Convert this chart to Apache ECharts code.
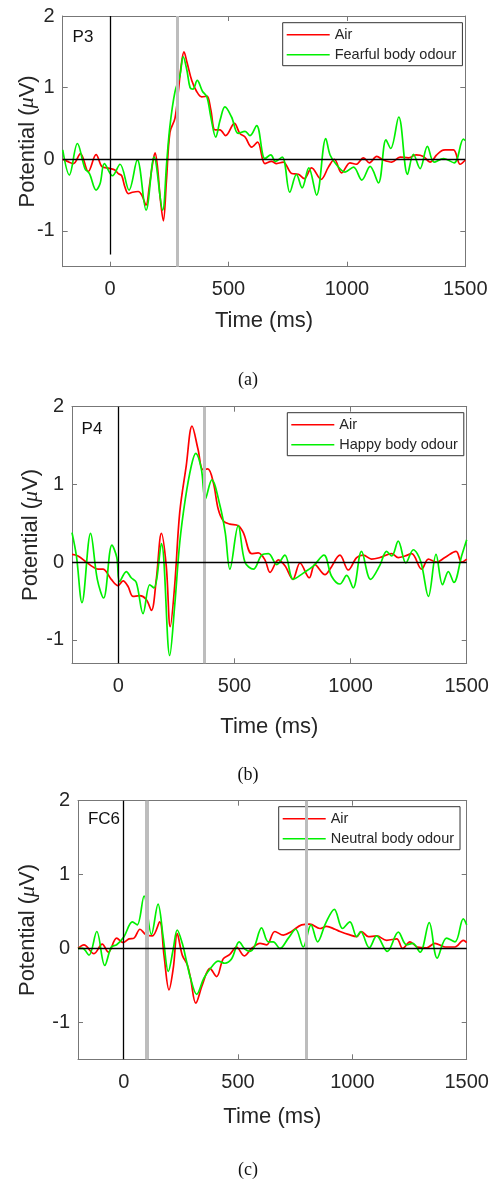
<!DOCTYPE html>
<html>
<head>
<meta charset="utf-8">
<script src="https://cdn.jsdelivr.net/npm/echarts@6/dist/echarts.min.js"></script>
<style>
html,body{margin:0;padding:0;background:#fff;}
#c{width:497px;height:1182px;}
</style>
</head>
<body>
<div id="c"></div>
<script>
// ---- data: [time (ms), potential (µV)] ----
const airP3 = [[-200,0],[-180,-0.03],[-155,-0.06],[-125,0.08],[-92,-0.17],[-59,0.065],[-35,-0.1],[-14,-0.12],[0,-0.13],[20,-0.15],[35,-0.2],[49,-0.23],[62,-0.38],[77,-0.48],[95,-0.46],[119,-0.45],[134,-0.5],[152,-0.64],[165,-0.4],[180,-0.05],[190,0.09],[200,-0.1],[212,-0.55],[225,-0.86],[238,-0.3],[253,0.38],[274,0.57],[288,0.94],[300,1.3],[312,1.5],[325,1.35],[345,1.1],[365,0.95],[387,0.87],[409,0.88],[425,0.7],[443,0.41],[464,0.41],[488,0.33],[525,0.5],[548,0.36],[570,0.31],[598,0.17],[623,0.24],[654,-0.06],[682,-0.03],[703,-0.06],[731,-0.04],[767,-0.2],[795,-0.21],[820,-0.27],[851,-0.12],[891,-0.28],[922,-0.11],[947,0],[978,-0.19],[1013,-0.05],[1039,-0.07],[1070,0.02],[1095,-0.05],[1126,0.04],[1154,-0.01],[1189,-0.04],[1225,0.03],[1260,0.02],[1292,0.06],[1323,0.04],[1351,-0.04],[1379,0.06],[1400,0.12],[1415,0.13],[1450,0.13],[1478,-0.07],[1500,-0.01]];
const fearfulP3 = [[-200,0.13],[-172,-0.22],[-138,0.22],[-106,-0.13],[-87,-0.2],[-59,-0.43],[-42,-0.34],[-24,-0.06],[10,-0.23],[42,-0.07],[80,-0.43],[115,-0.01],[152,-0.71],[186,0.03],[222,-0.71],[239,-0.05],[253,0.47],[274,0.94],[295,1.17],[309,1.43],[324,1.25],[338,1.0],[350,0.98],[368,1.1],[390,0.95],[409,0.87],[425,0.6],[446,0.31],[465,0.55],[485,0.73],[513,0.59],[541,0.36],[570,0.39],[591,0.33],[619,0.47],[654,0.01],[679,0.06],[698,-0.03],[727,0.03],[759,-0.46],[787,-0.21],[811,-0.4],[839,-0.12],[872,-0.5],[911,0.29],[929,0.06],[957,-0.08],[992,-0.18],[1028,-0.11],[1063,-0.29],[1098,-0.1],[1133,-0.33],[1165,0.27],[1185,0.15],[1219,0.59],[1256,-0.21],[1281,0.07],[1309,-0.13],[1340,0.18],[1368,-0.04],[1408,0.01],[1453,-0.05],[1492,0.28],[1500,0.26]];
const airP4 = [[-200,0.1],[-174,0.08],[-138,0],[-110,-0.06],[-88,-0.09],[-67,-0.09],[-31,-0.22],[-2,-0.3],[20,-0.24],[41,-0.31],[63,-0.44],[92,-0.43],[120,-0.48],[142,-0.62],[163,-0.22],[185,0.37],[206,-0.05],[223,-0.83],[242,-0.31],[264,0.64],[292,1.24],[317,1.75],[343,1.45],[364,1.19],[385,1.2],[409,1.02],[430,0.68],[452,0.53],[480,0.49],[516,0.47],[538,0.38],[574,0.11],[602,0.12],[631,0.03],[653,-0.13],[689,0.03],[718,-0.05],[751,-0.22],[782,-0.01],[822,-0.2],[846,-0.03],[890,-0.16],[911,-0.09],[954,0.09],[990,-0.1],[1026,0.06],[1055,0.09],[1090,0.04],[1126,0.06],[1177,0.11],[1205,0.06],[1234,0.08],[1263,0.11],[1306,-0.09],[1335,0.04],[1370,0],[1406,0.06],[1454,0.14],[1478,0],[1500,0.04]];
const happyP4 = [[-200,0.38],[-181,0.08],[-157,-0.52],[-120,0.37],[-91,-0.22],[-64,-0.46],[-28,0.22],[-7,0.06],[5,-0.25],[34,-0.12],[55,-0.2],[77,-0.26],[106,-0.66],[135,-0.29],[153,-0.33],[185,0.24],[221,-1.2],[242,-0.57],[264,0.25],[288,0.81],[314,1.24],[333,1.4],[357,1.2],[374,0.81],[402,1.06],[438,0.72],[460,0.38],[480,-0.09],[516,0.47],[545,0],[581,-0.09],[617,0.09],[646,0.11],[682,-0.03],[717,0.09],[753,-0.22],[796,-0.14],[839,-0.05],[885,0.09],[918,-0.18],[954,-0.28],[983,-0.17],[1011,-0.33],[1047,0.14],[1086,-0.22],[1126,-0.04],[1155,0.14],[1177,0.08],[1205,0.27],[1238,-0.01],[1270,0.16],[1302,0.01],[1335,-0.44],[1368,0.1],[1396,-0.29],[1421,-0.12],[1445,-0.26],[1478,0.08],[1500,0.29]];
const airFC6 = [[-200,0],[-174,0.05],[-130,-0.07],[-94,0.06],[-67,-0.05],[-31,0.14],[-2,0.08],[23,0.13],[45,0.14],[71,0.26],[96,0.19],[125,0.17],[157,0.36],[176,-0.09],[198,-0.56],[217,-0.26],[234,0.2],[256,-0.09],[278,-0.22],[292,-0.4],[315,-0.74],[344,-0.49],[377,-0.27],[406,-0.38],[435,-0.14],[464,-0.08],[493,0.02],[527,-0.1],[559,0],[596,0.07],[625,0.05],[661,0.23],[698,0.18],[734,0.23],[778,0.32],[814,0.33],[858,0.27],[887,0.3],[924,0.26],[946,0.23],[982,0.19],[1019,0.16],[1040,0.23],[1070,0.16],[1106,0.17],[1150,0.11],[1194,0.13],[1220,0],[1252,0.09],[1284,0.02],[1325,0.01],[1361,0.07],[1405,0.02],[1449,0.02],[1485,0.11],[1500,0.08]];
const neutralFC6 = [[-200,0],[-180,0],[-152,-0.09],[-118,0.23],[-83,-0.23],[-54,0.02],[-31,0.05],[1,0.16],[38,0.36],[59,0.32],[89,0.71],[121,0.19],[150,0.6],[173,0.14],[195,-0.31],[217,0],[234,0.25],[256,0.07],[275,-0.18],[292,-0.4],[319,-0.62],[351,-0.4],[384,-0.25],[413,-0.17],[442,-0.2],[472,-0.14],[505,0.09],[530,-0.01],[552,-0.04],[571,0.02],[603,0.28],[632,0.09],[654,0.09],[683,0],[720,0.14],[752,0.26],[785,0.02],[819,0.32],[848,0.09],[883,0.34],[921,0.53],[957,0.27],[989,0.36],[1019,0.16],[1036,0.23],[1074,0.01],[1106,0.17],[1153,-0.04],[1201,0.22],[1237,0.05],[1264,0.07],[1296,-0.05],[1336,0.35],[1371,-0.13],[1412,0.14],[1449,0.09],[1485,0.4],[1500,0.32]];

const markersP3 = [285];
const markersP4 = [370];
const markersFC6 = [97, 103, 800];
const xTicks = [0, 500, 1000, 1500];
const yTicks = [-1, 0, 1, 2];
const channels = ['P3', 'P4', 'FC6'];
const odourNames = ['Fearful body odour', 'Happy body odour', 'Neutral body odour'];
const captions = ['(a)', '(b)', '(c)'];

// ---- layout ----
const panels = [
  {grid:{left:62.7, top:16, width:402.6, height:250.7}, ymin:-1.5, air:airP3, odour:fearfulP3, markers:markersP3, zeroTop:2, zeroBottom:-1.33,
   yGap:24, xGap:43, legend:{left:282.7, top:22.7}, chan:[83,37], cap:380},
  {grid:{left:72, top:406.7, width:394.7, height:256.6}, ymin:-1.3, air:airP4, odour:happyP4, markers:markersP4, zeroTop:2, zeroBottom:-1.3,
   yGap:30, xGap:53, legend:{left:287.3, top:412.7}, chan:[92,429], cap:775},
  {grid:{left:78, top:800.7, width:388.7, height:258.6}, ymin:-1.5, air:airFC6, odour:neutralFC6, markers:markersFC6, zeroTop:2, zeroBottom:-1.5,
   yGap:39, xGap:47, legend:{left:278.7, top:806.7}, chan:[104,819], cap:1170}
];

const FONT = 'Liberation Sans';
const TXT = '#262626';
const BOX = '#777777';

const grid = [], xAxis = [], yAxis = [], series = [], legend = [], graphic = [];
panels.forEach((p, i) => {
  grid.push(Object.assign({containLabel:false}, p.grid));
  const axBase = {gridIndex:i, min:-200, max:1500, type:'value', splitLine:{show:false},
    axisLine:{show:true, onZero:false, lineStyle:{color:BOX, width:1}},
    axisTick:{show:true, inside:true, length:5, customValues:xTicks, lineStyle:{color:BOX}}};
  xAxis.push(Object.assign({}, axBase, {position:'bottom',
    axisLabel:{show:true, customValues:xTicks, margin:13, fontFamily:FONT, fontSize:20, color:TXT, formatter: v => String(v)},
    name:'Time (ms)', nameLocation:'middle', nameGap:p.xGap, nameMoveOverlap:false,
    nameTextStyle:{fontFamily:FONT, fontSize:22, color:TXT}}));
  xAxis.push(Object.assign({}, axBase, {position:'top', axisLabel:{show:false}}));
  const ayBase = {gridIndex:i, min:p.ymin, max:2, type:'value', splitLine:{show:false},
    axisLine:{show:true, onZero:false, lineStyle:{color:BOX, width:1}},
    axisTick:{show:true, inside:true, length:5, customValues:yTicks, lineStyle:{color:BOX}}};
  yAxis.push(Object.assign({}, ayBase, {position:'left',
    axisLabel:{show:true, customValues:yTicks, margin:8, fontFamily:FONT, fontSize:20, color:TXT, formatter: v => String(v)},
    name:'{a|Potential (}{m|μ}{a|V)}', nameLocation:'middle', nameGap:p.yGap, nameRotate:90, nameMoveOverlap:false,
    nameTextStyle:{rich:{a:{fontFamily:FONT, fontSize:22, color:TXT}, m:{fontFamily:'Liberation Serif', fontStyle:'italic', fontSize:22, color:TXT}}}}));
  yAxis.push(Object.assign({}, ayBase, {position:'right', axisLabel:{show:false}}));

  // gray marker lines (behind curves)
  series.push({type:'line', xAxisIndex:2*i, yAxisIndex:2*i, data:[], silent:true, z:1,
    markLine:{silent:true, symbol:'none', label:{show:false}, animation:false,
      lineStyle:{color:'#bdbdbd', width:3, type:'solid'},
      data:p.markers.map(v => ({xAxis:v}))}});
  series.push({type:'line', name:'Air', xAxisIndex:2*i, yAxisIndex:2*i, data:p.air, smooth:0.35, showSymbol:false,
    lineStyle:{color:'#ff0000', width:1.7}, itemStyle:{color:'#ff0000'}, z:2, animation:false});
  series.push({type:'line', name:odourNames[i], xAxisIndex:2*i, yAxisIndex:2*i, data:p.odour, smooth:0.35, showSymbol:false,
    lineStyle:{color:'#00f000', width:1.7}, itemStyle:{color:'#00f000'}, z:3, animation:false});
  // black zero lines (on top)
  series.push({type:'line', xAxisIndex:2*i, yAxisIndex:2*i, data:[], silent:true, z:4,
    markLine:{silent:true, symbol:'none', label:{show:false}, animation:false,
      lineStyle:{color:'#000', width:1.3, type:'solid'},
      data:[{yAxis:0}, [{coord:[0, p.zeroTop]}, {coord:[0, p.zeroBottom]}]]}});

  legend.push({orient:'vertical', left:p.legend.left, top:p.legend.top, data:['Air', odourNames[i]],
    icon:'rect', itemWidth:43, itemHeight:1.6, itemGap:4, padding:[4,6,3,4],
    borderColor:'#333', borderWidth:1, backgroundColor:'#fff', selectedMode:false,
    textStyle:{fontFamily:FONT, fontSize:14.5, color:TXT, lineHeight:16}});

  graphic.push({type:'text', x:p.chan[0], y:p.chan[1], style:{text:channels[i], font:'17px "Liberation Sans"', fill:'#111', textAlign:'center', textVerticalAlign:'middle'}, z:10});
  graphic.push({type:'text', x:248, y:p.cap, style:{text:captions[i], font:'18px "Liberation Serif"', fill:'#111', textAlign:'center', textVerticalAlign:'middle'}, z:10});
});

const chart = echarts.init(document.getElementById('c'), null, {renderer:'canvas'});
chart.setOption({animation:false, backgroundColor:'#fff', grid, xAxis, yAxis, series, legend, graphic});
</script>
</body>
</html>
